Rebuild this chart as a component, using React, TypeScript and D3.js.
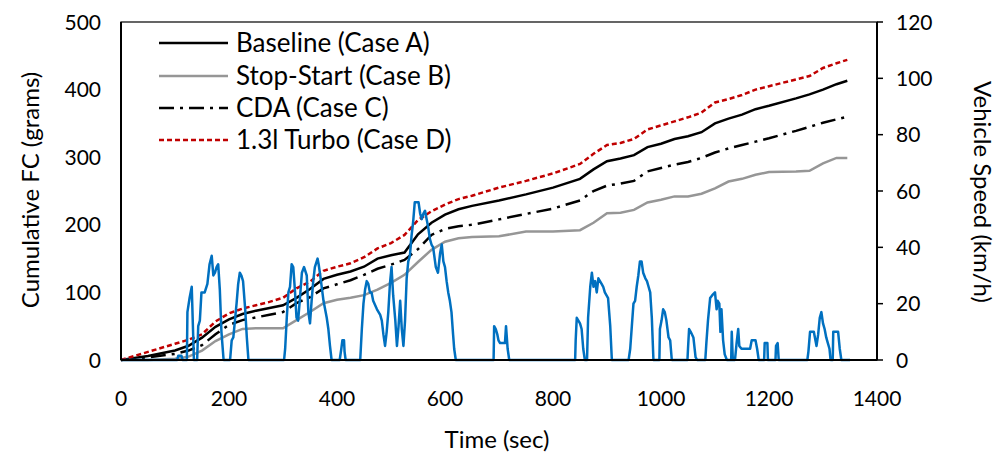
import React, { useEffect, useRef } from 'react';
import * as d3 from 'd3';

// shared time grid (s) for the cumulative fuel curves
const fcTime = [0, 50, 100, 125, 150, 175, 200, 225, 250, 275, 300, 325, 350, 375, 400, 425, 450, 475, 500, 525, 550, 575, 600, 625, 650, 700, 750, 800, 850, 875, 900, 925, 950, 975, 1000, 1025, 1050, 1075, 1100, 1125, 1150, 1175, 1200, 1250, 1275, 1300, 1325, 1345];

const baselineFC = [0, 6, 14, 21, 33, 49, 60, 68, 73, 77, 81, 92, 105, 120, 126, 131, 138, 150, 155, 159, 186, 203, 215, 223, 228, 236, 245, 255, 268, 282, 294, 298, 303, 315, 320, 327, 331, 337, 350, 357, 363, 371, 376, 387, 393, 400, 408, 413];
const stopStartFC = [0, 0, 2, 5, 14, 28, 38, 46, 47, 47, 47, 59, 71, 84, 89, 92, 96, 104, 114, 126, 145, 163, 175, 180, 182, 183, 190, 190, 192, 203, 217, 218, 222, 233, 237, 242, 242, 246, 254, 264, 268, 274, 278, 279, 280, 291, 299, 299];
const cdaFC = [0, 4, 9, 14, 22, 38, 52, 59, 63, 67, 71, 84, 93, 106, 112, 118, 126, 135, 141, 148, 164, 185, 194, 198, 200, 208, 216, 224, 236, 250, 258, 261, 265, 279, 284, 289, 293, 299, 307, 313, 318, 323, 328, 339, 345, 351, 356, 360];
const turboFC = [0, 12, 24, 30, 38, 57, 69, 76, 81, 86, 92, 106, 116, 132, 138, 143, 152, 165, 173, 185, 207, 220, 230, 238, 243, 255, 265, 276, 290, 305, 318, 321, 327, 341, 347, 353, 359, 366, 381, 386, 392, 400, 405, 415, 420, 432, 439, 444];

// vehicle speed trace (s, km/h)
const speedTime = [0, 104, 106, 112, 114, 122, 123, 127, 131, 133, 135, 141, 143, 146, 149, 155, 160, 164, 168, 171, 174, 177, 180, 183, 186, 190, 202, 205, 208, 211, 214, 217, 220, 223, 226, 230, 233, 236,
  302, 304, 307, 310, 313, 316, 319, 322, 325, 328, 331, 335, 339, 344, 347, 350, 353, 356, 359, 364, 366, 369, 375, 381, 384, 387, 390, 405, 408, 410, 413, 414, 416,
  443, 446, 449, 452, 455, 458, 461, 464, 467, 474, 480, 483, 486, 489, 492, 495, 498, 501, 504, 508, 511, 514, 517, 520, 523, 526, 529, 532, 535, 538, 541, 544, 551, 554, 557, 560, 563, 566, 569, 572, 575, 578, 583, 587, 591, 594, 597, 600, 603, 606, 609, 612, 615, 617, 620,
  690, 691, 694, 697, 699, 702, 708, 711, 713, 716, 719,
  841, 842, 844, 847, 850, 853, 856, 859, 863, 865, 869, 872, 875, 878, 881, 884, 887, 890, 893, 896, 902, 906, 909,
  940, 943, 946, 949, 952, 955, 958, 961, 964, 967, 971, 974, 977, 980, 983, 986, 997, 998, 1001, 1004, 1007, 1010, 1014, 1017, 1020,
  1049, 1050, 1052, 1055, 1060, 1064, 1067, 1082, 1084, 1087, 1091, 1095, 1100, 1103, 1105, 1108, 1110, 1112, 1115, 1118, 1122,
  1130, 1131, 1133, 1137, 1140, 1143, 1145, 1149, 1155, 1162, 1165, 1168, 1175, 1178, 1181, 1191, 1192, 1197, 1198, 1212, 1213, 1216, 1218,
  1271, 1273, 1276, 1280, 1283, 1285, 1288, 1291, 1294, 1297, 1300, 1303, 1306, 1309, 1312, 1314, 1318, 1319, 1323, 1328, 1331, 1334, 1350];
const speedKmh = [0, 0, 1.5, 1.5, 0, 0, 17, 22, 26, 13, 0, 0, 12, 14, 24, 24, 27, 34, 37, 30, 31, 33, 34, 25, 10, 0, 0, 7, 8, 14, 20, 27, 31, 30, 28, 18, 8, 0,
  0, 4, 15, 24, 26, 34, 33, 25, 15, 14, 21, 31, 33, 30, 17, 13, 21, 28, 33, 36, 34, 30, 21, 15, 11, 5, 0, 0, 4, 7, 7, 3, 0,
  0, 11, 20, 25, 28, 27, 24, 24, 21, 18, 16, 14, 9, 5, 10, 17, 27, 33, 23, 14, 5, 12, 21, 11, 5, 14, 29, 35, 37, 44, 49, 56, 56, 52, 50, 52, 53, 50, 47, 43, 41, 40, 33, 31, 38, 41, 35, 33, 28, 24, 21, 17, 9, 4, 0,
  0, 12, 11, 9, 7, 6, 6, 6, 12, 4, 0,
  0, 7, 15, 14, 13, 11, 4, 0, 0, 15, 26, 31, 26, 28, 24, 29, 28, 27, 26, 24, 22, 12, 0,
  0, 4, 12, 20, 21, 26, 30, 35, 35, 31, 29, 28, 26, 24, 15, 0, 0, 11, 14, 18, 17, 14, 8, 7, 0,
  0, 4, 11, 10, 8, 1, 0, 0, 6, 14, 22, 23, 24, 18, 21, 20, 10, 18, 7, 2, 0,
  0, 10, 0, 0, 6, 11, 5, 4, 4, 4, 4, 7, 7, 4, 0, 0, 6, 6, 0, 0, 5, 6, 0,
  0, 3, 10, 10, 10, 8, 5, 9, 15, 17, 13, 11, 8, 6, 4, 0, 0, 10, 10, 10, 4, 0, 0];

const timeTicks = [0, 200, 400, 600, 800, 1000, 1200, 1400];
const fcTicks = [0, 100, 200, 300, 400, 500];
const speedTicks = [0, 20, 40, 60, 80, 100, 120];

const seriesNames = ['Baseline (Case A)', 'Stop-Start (Case B)', 'CDA (Case C)', '1.3l Turbo (Case D)'];
const seriesColors = ['#000000', '#969696', '#000000', '#C00000'];
const seriesDash = ['none', 'none', '15 6 3 6', '5 3'];

const FONT = 'Lato, "Open Sans", sans-serif';

const App = () => {
  const ref = useRef<SVGSVGElement>(null);

  useEffect(() => {
    const W = 997, H = 455;
    const left = 121, right = 877, top = 22, bottom = 360;
    const svg = d3.select(ref.current);
    svg.selectAll('*').remove();

    const x = d3.scaleLinear().domain([0, 1400]).range([left, right]);
    const yL = d3.scaleLinear().domain([0, 500]).range([bottom, top]);
    const yR = d3.scaleLinear().domain([0, 120]).range([bottom, top]);

    svg.append('rect').attr('width', W).attr('height', H).attr('fill', '#fff');

    // plot border
    svg.append('rect')
      .attr('x', left).attr('y', top)
      .attr('width', right - left).attr('height', bottom - top)
      .attr('fill', 'none').attr('stroke', '#000').attr('stroke-width', 1.2);

    const fcSeries = [baselineFC, stopStartFC, cdaFC, turboFC];
    const line = d3.line<number>()
      .x((_, i) => x(fcTime[i]))
      .y(d => yL(d));

    fcSeries.forEach((s, k) => {
      svg.append('path')
        .datum(s)
        .attr('d', line)
        .attr('fill', 'none')
        .attr('stroke', seriesColors[k])
        .attr('stroke-width', 2.5)
        .attr('stroke-dasharray', seriesDash[k]);
    });

    const speedLine = d3.line<number>()
      .x((_, i) => x(speedTime[i]))
      .y(d => yR(d));
    svg.append('path')
      .datum(speedKmh)
      .attr('d', speedLine)
      .attr('fill', 'none')
      .attr('stroke', '#0070C0')
      .attr('stroke-width', 2.5)
      .attr('stroke-linejoin', 'round');

    // axis lines
    svg.append('line').attr('x1', left).attr('x2', right).attr('y1', bottom).attr('y2', bottom)
      .attr('stroke', '#000').attr('stroke-width', 2);
    svg.append('line').attr('x1', left).attr('x2', left).attr('y1', top).attr('y2', bottom)
      .attr('stroke', '#000').attr('stroke-width', 2);
    svg.append('line').attr('x1', right).attr('x2', right).attr('y1', top).attr('y2', bottom)
      .attr('stroke', '#000').attr('stroke-width', 2);

    svg.selectAll('.rtick').data(speedTicks).enter().append('line')
      .attr('x1', right).attr('x2', right + 6)
      .attr('y1', d => yR(d)).attr('y2', d => yR(d))
      .attr('stroke', '#000').attr('stroke-width', 1.5);

    const label = (sel: any, size = 21) =>
      sel.attr('font-family', FONT).attr('font-size', size).attr('fill', '#000');

    svg.selectAll('.xl').data(timeTicks).enter().append('text')
      .call(label)
      .attr('x', d => x(d)).attr('y', 406)
      .attr('text-anchor', 'middle')
      .text(d => d);

    svg.selectAll('.yl').data(fcTicks).enter().append('text')
      .call(label)
      .attr('x', 101).attr('y', d => yL(d) + 7.5)
      .attr('text-anchor', 'end')
      .text(d => d);

    svg.selectAll('.yr').data(speedTicks).enter().append('text')
      .call(label)
      .attr('x', 896).attr('y', d => yR(d) + 7.5)
      .attr('text-anchor', 'start')
      .text(d => d);

    // axis titles
    svg.append('text').call(label, 24)
      .attr('x', 497).attr('y', 448).attr('text-anchor', 'middle')
      .text('Time (sec)');
    svg.append('text').call(label, 24)
      .attr('transform', 'translate(39,190) rotate(-90)')
      .attr('text-anchor', 'middle')
      .text('Cumulative FC (grams)');
    svg.append('text').call(label, 24)
      .attr('transform', 'translate(974,192) rotate(90)')
      .attr('text-anchor', 'middle')
      .text('Vehicle Speed (km/h)');

    // legend
    const legendY = [43, 76, 108, 140];
    seriesNames.forEach((name, k) => {
      svg.append('line')
        .attr('x1', 159).attr('x2', 228)
        .attr('y1', legendY[k]).attr('y2', legendY[k])
        .attr('stroke', seriesColors[k])
        .attr('stroke-width', 2.5)
        .attr('stroke-dasharray', seriesDash[k]);
      svg.append('text').call(label, 26)
        .attr('x', 236).attr('y', legendY[k] + 9)
        .text(name);
    });
  }, []);

  return (
    <svg ref={ref} width={997} height={455}
      style={{ position: 'absolute', left: 0, top: 0, display: 'block' }} />
  );
};

export default App;
